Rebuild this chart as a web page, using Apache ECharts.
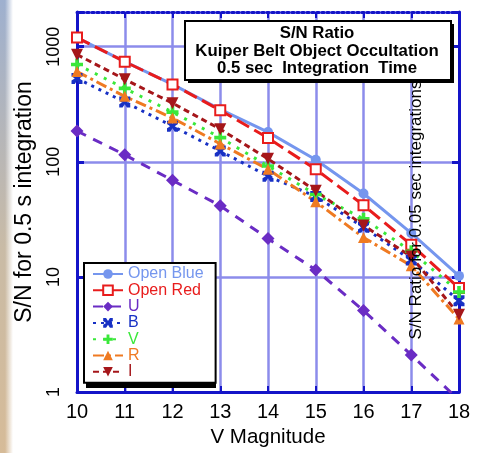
<!DOCTYPE html>
<html>
<head>
<meta charset="utf-8">
<script src="https://cdn.jsdelivr.net/npm/echarts@6/dist/echarts.min.js"></script>
<style>
html, body { margin: 0; padding: 0; }
body {
    width: 477px; height: 453px; overflow: hidden;
    background: linear-gradient(to right, rgba(255,255,255,0) 0, rgba(255,255,255,0) 5px, #ffffff 13px),
                linear-gradient(to bottom, #9eb0cf, #c9bba6 55%, #d6bb98);
}
#chart { width: 477px; height: 453px; }
</style>
</head>
<body>
<div id="chart"></div>
<script>
// V magnitude categories
var magnitudes = [10, 11, 12, 13, 14, 15, 16, 17, 18]
var yTicks = [1, 10, 100, 1000]
var yTickLabels = ['1', '10', '100', '1000']

// S/N values
var openBlue = [1200, 740, 470, 285, 181, 104, 53, 24, 10.2]
var openRed  = [1200, 740, 470, 280, 161, 86, 42, 19, 8.0]
var uBand    = [185, 115, 69, 41.5, 21.5, 11.5, 5.1, 2.1, 0.85]
var bBand    = [530, 330, 204, 124, 75, 50, 27, 14, 6.2]
var vBand    = [700, 434, 270, 162, 92, 52, 32, 16.7, 7.4]
var rBand    = [607, 370, 240, 143, 86, 45, 22, 12.5, 4.3]
var iBand    = [852, 520, 323, 192, 106, 56, 28, 15, 4.7]

var font = 'Liberation Sans, Arial, sans-serif'
var axisBlue = '#1414c8'
var gridBlue = '#8c8ceb'

function pts(arr) {
    return magnitudes.map(function (m, i) { return [m, arr[i]] })
}

var seriesDefs = [
    { name: 'Open Blue', data: openBlue, color: '#7596ee', type: 'solid', symbol: 'circle', size: 10 },
    { name: 'Open Red', data: openRed, color: '#e81c1c', type: [14, 6], symbol: 'emptyRect', size: 10 },
    { name: 'U', data: uBand, color: '#6a2cc4', type: [10, 8], symbol: 'diamond', size: 13 },
    { name: 'B', data: bBand, color: '#1730c4', type: [3, 5],
      symbol: 'path://M0,0L3,0L5,3L7,0L10,0L10,3L7,5L10,7L10,10L7,10L5,7L3,10L0,10L0,7L3,5L0,3Z', size: 11 },
    { name: 'V', data: vBand, color: '#3ae83a', type: [3, 7],
      symbol: 'path://M3.5,0H6.5V3.5H10V6.5H6.5V10H3.5V6.5H0V3.5H3.5Z', size: 12 },
    { name: 'R', data: rBand, color: '#ef7a22', type: [11, 4, 3, 4], symbol: 'triangle', size: 11 },
    { name: 'I', data: iBand, color: '#a5161a', type: [6, 4], symbol: 'triangle', size: 12, rotate: 180 }
]

var chart = echarts.init(document.getElementById('chart'), null, { renderer: 'canvas' })

chart.setOption({
    backgroundColor: 'transparent',
    animation: false,
    grid: { left: 77, right: 18, top: 12, bottom: 58 },
    legend: {
        orient: 'vertical',
        left: 84,
        top: 263,
        padding: [3, 12, 3, 8],
        itemWidth: 30,
        itemHeight: 12,
        itemGap: 0.3,
        backgroundColor: '#ffffff',
        borderColor: '#000000',
        borderWidth: 2,
        textStyle: { fontFamily: font, fontSize: 16, lineHeight: 16 },
        data: seriesDefs.map(function (d) {
            return { name: d.name, textStyle: { color: d.color } }
        })
    },
    xAxis: [
        {
            type: 'value',
            min: 10, max: 18, interval: 1,
            name: 'V Magnitude',
            nameLocation: 'middle',
            nameGap: 35,
            nameTextStyle: { fontFamily: font, fontSize: 20.5, color: '#000' },
            axisLine: { lineStyle: { color: axisBlue, width: 3 } },
            axisTick: { inside: true, length: 6, lineStyle: { color: axisBlue, width: 2 } },
            axisLabel: { fontFamily: font, fontSize: 20, color: '#000', margin: 10 },
            splitLine: { show: true, lineStyle: { color: gridBlue, width: 2.5 } }
        },
        {
            type: 'value',
            position: 'top',
            min: 10, max: 18, interval: 1,
            axisLine: { lineStyle: { color: axisBlue, width: 3, type: [2, 3] } },
            axisTick: { inside: true, length: 6, lineStyle: { color: axisBlue, width: 2 } },
            axisLabel: { show: false },
            splitLine: { show: false }
        }
    ],
    yAxis: [
        {
            type: 'log',
            logBase: 10,
            min: 1, max: 2000,
            name: 'S/N for 0.5 s integration',
            nameLocation: 'middle',
            nameGap: 41,
            nameTextStyle: { fontFamily: font, fontSize: 23, color: '#000' },
            axisLine: { lineStyle: { color: axisBlue, width: 3 } },
            axisTick: { inside: true, length: 7, lineStyle: { color: axisBlue, width: 3 } },
            minorTick: { show: false },
            axisLabel: {
                fontFamily: font, fontSize: 18, color: '#000', rotate: 90, margin: 14,
                formatter: function (v) {
                    var k = yTicks.indexOf(Math.round(v))
                    return k >= 0 ? yTickLabels[k] : ''
                }
            },
            splitLine: { show: true, lineStyle: { color: gridBlue, width: 2.5 } }
        },
        {
            type: 'log',
            logBase: 10,
            min: 1, max: 2000,
            position: 'right',
            axisLine: { show: true, lineStyle: { color: axisBlue, width: 3 } },
            axisTick: { show: true, inside: true, length: 7, lineStyle: { color: axisBlue, width: 3 } },
            axisLabel: { show: false },
            splitLine: { show: false }
        }
    ],
    series: seriesDefs.map(function (d) {
        return {
            name: d.name,
            type: 'line',
            data: pts(d.data),
            symbol: d.symbol,
            symbolSize: d.size,
            symbolRotate: d.rotate || 0,
            clip: true,
            color: d.color,
            lineStyle: { color: d.color, width: 3, type: d.type },
            itemStyle: { color: d.color, borderWidth: d.symbol === 'emptyRect' ? 3 : 0 }
        }
    }),
    graphic: [
        // legend drop shadow
        {
            type: 'rect',
            z: 3,
            silent: true,
            shape: { x: 86, y: 268, width: 130, height: 120 },
            style: { fill: '#000000' }
        },
        // title box shadow
        {
            type: 'rect',
            z: 99,
            silent: true,
            shape: { x: 188, y: 24, width: 266, height: 59 },
            style: { fill: '#000000' }
        },
        {
            type: 'rect',
            z: 100,
            shape: { x: 185, y: 21, width: 266, height: 59 },
            style: { fill: '#ffffff', stroke: '#000000', lineWidth: 2 }
        },
        {
            type: 'text',
            z: 101,
            x: 317,
            y: 51,
            style: {
                text: 'S/N Ratio\nKuiper Belt Object Occultation\n0.5 sec  Integration  Time',
                fontFamily: font, fontSize: 16.8, fontWeight: 'bold', lineHeight: 17.5,
                fill: '#000', align: 'center', verticalAlign: 'middle'
            }
        },
        {
            type: 'text',
            z: 101,
            x: 416,
            y: 210,
            rotation: Math.PI / 2,
            style: {
                text: 'S/N Ratio for 0.05 sec integrations',
                fontFamily: font, fontSize: 17, fill: '#000',
                align: 'center', verticalAlign: 'middle'
            }
        }
    ]
})
</script>
</body>
</html>
